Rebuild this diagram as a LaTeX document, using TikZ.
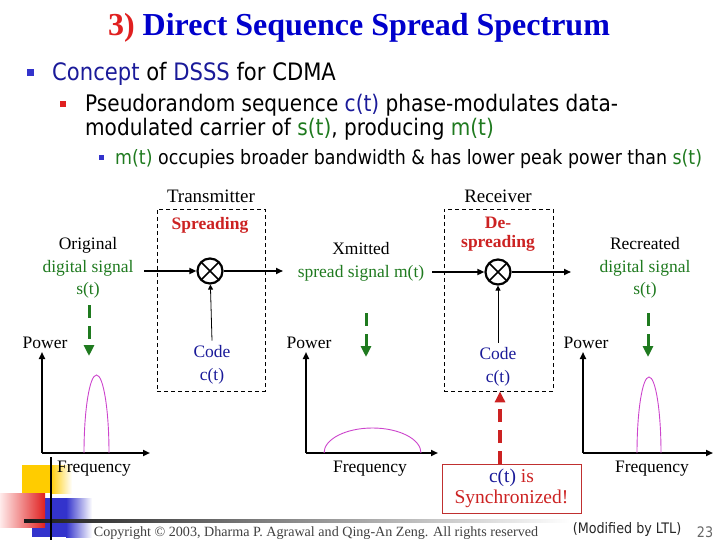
\documentclass[tikz,border=0pt]{standalone}
\usepackage{fontspec}
\setmainfont{Liberation Serif}
\newfontfamily\tahoma[FakeStretch=0.88]{DejaVu Sans}
\usetikzlibrary{arrows.meta, positioning, shapes.geometric}
\definecolor{ttlblue}{HTML}{0000CC}
\definecolor{ttlred}{HTML}{E02020}
\definecolor{navy}{HTML}{1A1A99}
\definecolor{sgreen}{HTML}{1F7A1F}
\definecolor{spred}{HTML}{CC2222}
\definecolor{pulsec}{HTML}{CC44CC}
\definecolor{boxred}{HTML}{C03030}
\definecolor{barblue}{HTML}{3333CC}
\definecolor{baryellow}{HTML}{FFCC00}

\tikzset{
  lbl/.style={font=\fontsize{17.5}{22.5}\selectfont, align=center, inner sep=1pt},
  bul/.style={font=\tahoma\fontsize{23.4}{26}\selectfont, anchor=base west, inner sep=0pt},
  dashbox/.style={draw, dash pattern=on 4pt off 3pt, line width=0.7pt},
  mixer/.style={circle, draw, line width=2.2pt, minimum size=25pt, inner sep=0pt,
    path picture={\draw[line width=1.6pt]
      (path picture bounding box.north west) -- (path picture bounding box.south east)
      (path picture bounding box.north east) -- (path picture bounding box.south west);}},
  sigline/.style={line width=1.6pt, -{Triangle[length=7pt,width=6pt]}},
  codeline/.style={line width=0.8pt, -{Triangle[length=5pt,width=5pt]}},
  axis/.style={line width=1.8pt, -{Triangle[length=7pt,width=6pt]}},
  hint/.style={line width=3pt, dash pattern=on 13pt off 8pt, -{Triangle[length=11pt,width=10pt]}},
  pulse/.style={pulsec, line width=0.9pt},
}

\begin{document}
\begin{tikzpicture}[x=1pt, y=-1pt, >=Stealth]
  \useasboundingbox (0,0) rectangle (720,540);

  % footer decoration (behind everything)
  \fill[barblue] (32,498) rectangle (66,537);
  \shade[left color=barblue, right color=white] (66,498) rectangle (92,537);
  \fill[baryellow] (22,465) rectangle (50,493);
  \shade[left color=baryellow, right color=white] (50,465) rectangle (72,493);
  \shade[left color=red!8, right color=ttlred] (0,493) rectangle (45,527);
  \shade[left color=black!90, middle color=black!45, right color=white] (24,519.5) rectangle (570,522.5);
  \draw[line width=2.5pt] (51,457) -- (51,540);

  % title and bullets
  \node[anchor=base, font=\bfseries\fontsize{32}{36}\selectfont, inner sep=0pt] (title) at (359,36)
    {\textcolor{ttlred}{3)} \textcolor{ttlblue}{Direct Sequence Spread Spectrum}};
  \node[fill=barblue, minimum size=7pt, inner sep=0pt] (b1) at (30,73) {};
  \node[bul, font=\tahoma\fontsize{24}{26}\selectfont] (l1) at (52,81) {\textcolor{navy}{Concept} of \textcolor{navy}{DSSS} for CDMA};
  \node[fill=ttlred, minimum size=6pt, inner sep=0pt] (b2) at (63,104) {};
  \node[bul, font=\tahoma\fontsize{22.8}{26}\selectfont] (l2a) at (85,112) {Pseudorandom sequence \textcolor{navy}{c(t)} phase-modulates data-};
  \node[bul, font=\tahoma\fontsize{22.8}{26}\selectfont] (l2b) at (85,136) {modulated carrier of \textcolor{sgreen}{s(t)}, producing \textcolor{sgreen}{m(t)}};
  \node[fill=barblue, minimum size=5pt, inner sep=0pt] (b3) at (101,158) {};
  \node[bul, font=\tahoma\fontsize{19.8}{24}\selectfont] (l3) at (115,165)
    {\textcolor{sgreen}{m(t)} occupies broader bandwidth \& has lower peak power than \textcolor{sgreen}{s(t)}};

  % transmitter
  \node[lbl, font=\fontsize{19}{22}\selectfont] (txt) at (211,196) {Transmitter};
  \node[dashbox, minimum width=108pt, minimum height=182pt] (txbox) at (211,300) {};
  \node[lbl, font=\bfseries\fontsize{17.5}{20}\selectfont, text=spred] (spr) at (210,225) {Spreading};
  \node[mixer] (mixT) at (210,271) {};
  \node[lbl, text=navy] (codeT) at (212,365) {Code\\c(t)};
  \node[lbl] (orig) at (88,268) {Original\\\textcolor{sgreen}{digital signal}\\\textcolor{sgreen}{s(t)}};
  \coordinate (txin) at (144,271);
  \coordinate (txout) at (283,271);
  \draw[sigline] (txin) -- (mixT);
  \draw[sigline] (mixT) -- (txout);
  \draw[codeline] ([yshift=4pt]codeT.north) -- (mixT);

  \node[lbl] (xmit) at (361,262) {Xmitted\\\textcolor{sgreen}{spread signal m(t)}};

  % receiver
  \node[lbl, font=\fontsize{19}{22}\selectfont] (rxt) at (498,196) {Receiver};
  \node[dashbox, minimum width=109pt, minimum height=182pt] (rxbox) at (498.5,300) {};
  \node[lbl, font=\bfseries\fontsize{17.5}{19.5}\selectfont, text=spred] (despr) at (498,234) {De-\\spreading};
  \node[mixer] (mixR) at (498,272) {};
  \node[lbl, text=navy] (codeR) at (498,367) {Code\\c(t)};
  \node[lbl] (recr) at (645,268) {Recreated\\\textcolor{sgreen}{digital signal}\\\textcolor{sgreen}{s(t)}};
  \coordinate (rxin) at (432,272);
  \coordinate (rxout) at (571,272);
  \draw[sigline] (rxin) -- (mixR);
  \draw[sigline] (mixR) -- (rxout);
  \draw[codeline] ([yshift=4pt]codeR.north) -- (mixR);

  \node[draw=boxred, line width=1pt, minimum width=139pt, minimum height=49pt, align=center,
    font=\fontsize{19.5}{21}\selectfont, text=spred] (sync) at (511.5,488.5)
    {\textcolor{navy}{c(t)} is\\Synchronized!};
  \coordinate (synctop) at (500,464);
  \draw[hint, spred, line width=3.5pt] (synctop) -- (synctop |- rxbox.south);

  % spectra
  \foreach \ox/\xr/\fx [count=\i] in {42/150/94, 306/438/370, 583/713/652}{
    \draw[axis] (\ox,453) -- (\ox,352);
    \draw[axis] (\ox,453) -- (\xr,453);
    \node[lbl, font=\fontsize{17.5}{20}\selectfont] (pow\i) at (\ox+3,343) {Power};
    \node[lbl, font=\fontsize{17.5}{20}\selectfont] (freq\i) at (\fx,469) {Frequency};
  }
  \draw[pulse] (84,453) arc[start angle=180, end angle=360, x radius=12.5, y radius=78];
  \draw[pulse] (324,453) arc[start angle=180, end angle=360, x radius=48.5, y radius=25];
  \draw[pulse] (637,453) arc[start angle=180, end angle=360, x radius=12, y radius=76];

  \coordinate (h1a) at (89,305);  \coordinate (h1b) at (89,356);
  \coordinate (h2a) at (366,313); \coordinate (h2b) at (366,357);
  \coordinate (h3a) at (648,313); \coordinate (h3b) at (648,357);
  \draw[hint, sgreen] (h1a) -- (h1b);
  \draw[hint, sgreen] (h2a) -- (h2b);
  \draw[hint, sgreen] (h3a) -- (h3b);

  % footer text
  \node[anchor=base, font=\fontsize{14.1}{15}\selectfont, text=black!75, inner sep=0pt] (copy) at (316,536)
    {Copyright © 2003, Dharma P. Agrawal and Qing-An Zeng. All rights reserved};
  \node[anchor=base, font=\tahoma\fontsize{14.5}{16}\selectfont, text=black!85, inner sep=0pt] (mod) at (627,533) {(Modified by LTL)};
  \node[anchor=base, font=\tahoma\fontsize{14.5}{16}\selectfont, text=black!60, inner sep=0pt] (pg) at (705,537) {23};
\end{tikzpicture}
\end{document}
